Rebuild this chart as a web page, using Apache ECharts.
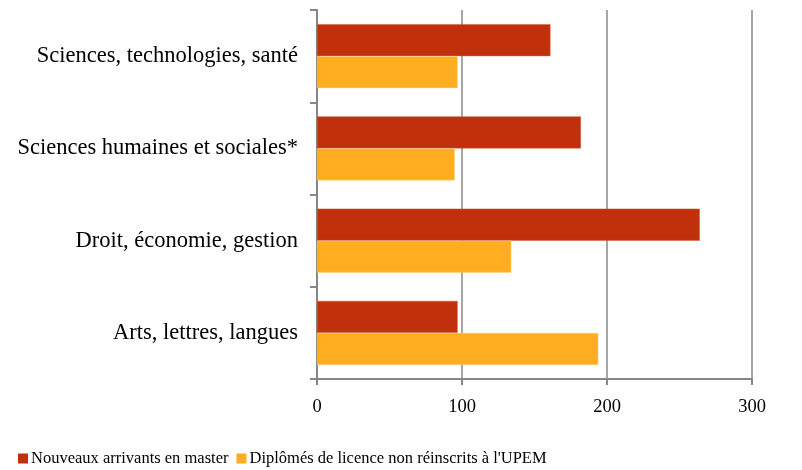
<!DOCTYPE html>
<html><head><meta charset="utf-8">
<script src="https://cdn.jsdelivr.net/npm/echarts@6/dist/echarts.min.js"></script>
<style>html,body{margin:0;padding:0;background:#fff}#c{width:802px;height:470px}</style>
</head><body><div id="c"></div>
<script>
const categories = ['Arts, lettres, langues', 'Droit, économie, gestion', 'Sciences humaines et sociales*', 'Sciences, technologies, santé'];
const seriesNames = ['Nouveaux arrivants en master', "Diplômés de licence non réinscrits à l'UPEM"];
const nouveaux = [97, 264, 182, 161];
const diplomes = [194, 134, 95, 97];
const xTicks = [0, 100, 200, 300];

const chart = echarts.init(document.getElementById('c'));
const font = 'Liberation Serif';
chart.setOption({
  animation: false,
  textStyle: { fontFamily: font },
  grid: { left: 317, right: 50, top: 10, bottom: 91 },
  legend: {
    top: 445, left: 13, itemWidth: 10, itemHeight: 10, itemGap: 8,
    icon: 'rect',
    itemStyle: { borderWidth: 0 },
    textStyle: { fontFamily: font, fontSize: 16.5, color: '#000', padding: [0, 0, 0, -2] },
    data: seriesNames
  },
  xAxis: {
    type: 'value', min: xTicks[0], max: xTicks[xTicks.length - 1], interval: 100,
    axisLine: { show: true, lineStyle: { color: '#868686', width: 2 } },
    axisTick: { show: true, length: 6, lineStyle: { color: '#868686', width: 2 } },
    splitLine: { show: true, lineStyle: { color: '#a6a6a6', width: 2 } },
    axisLabel: { fontFamily: font, fontSize: 18.5, color: '#000', margin: 19 }
  },
  yAxis: {
    type: 'category', data: categories,
    axisLine: { show: true, lineStyle: { color: '#868686', width: 2 } },
    axisTick: { show: true, length: 7, lineStyle: { color: '#868686', width: 2 } },
    axisLabel: { fontFamily: font, fontSize: 22.5, color: '#000', margin: 19 }
  },
  series: [
    { name: seriesNames[0], type: 'bar', data: nouveaux, barWidth: 32, barGap: '0%',
      itemStyle: { color: '#C0300D', borderColor: '#d35a3c', borderWidth: 0.5 } },
    { name: seriesNames[1], type: 'bar', data: diplomes, barWidth: 32, barGap: '0%',
      itemStyle: { color: '#FDAD1F', borderColor: '#fdd080', borderWidth: 0.5 } }
  ]
});
</script></body></html>
